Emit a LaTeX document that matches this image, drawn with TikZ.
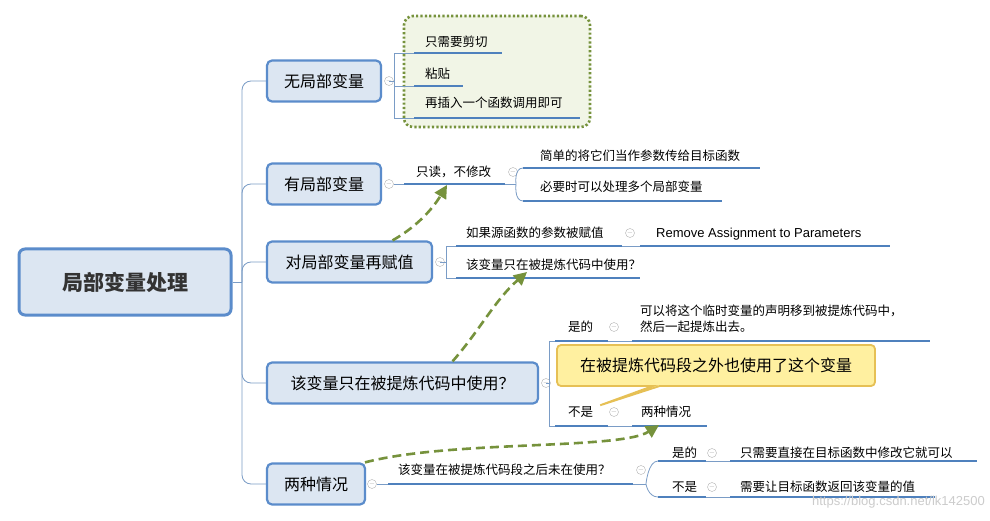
\documentclass[tikz,border=0pt]{standalone}
\usepackage{fontspec}
\setmainfont{Noto Sans CJK SC}
\newfontfamily\lat{Liberation Sans}
\usetikzlibrary{arrows.meta,shapes.callouts}
\definecolor{nfill}{HTML}{DCE6F2}
\definecolor{nline}{HTML}{5B8CCB}
\definecolor{uline}{HTML}{4F81BD}
\definecolor{brk}{HTML}{7A9CC6}
\definecolor{grn}{HTML}{76923C}
\definecolor{gfill}{HTML}{F1F5E6}
\definecolor{yfill}{HTML}{FFF0A0}
\definecolor{yline}{HTML}{E6C055}
\tikzset{
 lone/.style={draw=nline,fill=nfill,rounded corners=5,line width=2.2,minimum height=41,inner xsep=6,font=\fontsize{16}{18}\selectfont},
 txt/.style={anchor=west,inner sep=0,font=\fontsize{12.5}{16}\selectfont},
 ul/.style={draw=uline,line width=2.6},
 br/.style={draw=brk,line width=0.8},
 cl/.style={circle,draw=gray!60,inner sep=0,minimum size=9,font=\fontsize{7}{7}\selectfont,text=gray!70},
 darr/.style={draw=grn,line width=2.6,dash pattern=on 9pt off 5pt,-{Triangle[length=13,width=13]}},
}
\begin{document}
\begin{tikzpicture}[x=1pt,y=-1pt]
\useasboundingbox[fill=white] (0,0) rectangle (990,521);
% root
\node[draw=nline,fill=nfill,rounded corners=6,line width=3,minimum width=212,minimum height=66,font=\fontsize{21}{24}\selectfont\bfseries,text=black!80] (root) at (125,282) {局部变量处理};
% level 1
\node[lone,minimum width=114] (a) at (324,81) {无局部变量};
\node[lone,minimum width=114] (b) at (324,184) {有局部变量};
\node[lone,minimum width=165] (c) at (349.5,262) {对局部变量再赋值};
\node[lone,minimum width=271] (d) at (402.5,383) {该变量只在被提炼代码中使用？};
\node[lone,minimum width=98] (e) at (316,484) {两种情况};
\coordinate (tr) at (242,282);
\draw[br] (root.east) -- (tr);
\foreach \n in {a,b,c,d,e}{\draw[br,rounded corners=9] (\n.west) -| (tr);}
% collapse markers
\foreach \p/\q in {389/81,389/184,440/262,546/383,372/484}{\node[cl] at (\p,\q) {$-$};}
% group a
\node[draw=grn,fill=gfill,rounded corners=9,line width=2.6,dash pattern=on 2.2pt off 2.2pt,minimum width=186,minimum height=111] (ga) at (497,71.5) {};
\node[txt] (a1) at (425,42) {只需要剪切};
\node[txt] (a2) at (425,74) {粘贴};
\node[txt] (a3) at (425,103) {再插入一个函数调用即可};
\draw[ul] (414,53)--(502,53); \draw[ul] (414,86)--(463,86); \draw[ul] (414,118)--(580,118);
\draw[br] (394,81)--(389,81); \draw[br] (414,53)-|(394,118)--(414,118); \draw[br] (394,86)--(414,86);
% group b
\node[txt] (b1) at (416,172) {只读，不修改};
\draw[ul] (404,184)--(505,184); \draw[br] (394,184)--(404,184);
\node[cl] at (513,172) {$-$};
\node[txt] (b2) at (540,156) {简单的将它们当作参数传给目标函数};
\node[txt] (b3) at (540,187) {必要时可以处理多个局部变量};
\draw[ul] (523,168)--(760,168); \draw[ul] (523,201)--(722,201);
\draw[br] (505,184)--(516,184); \draw[br] (523,168) .. controls (514,168) and (516,184) .. (516,184) .. controls (516,184) and (514,201) .. (523,201);
% group c
\node[txt] (c1) at (466,233) {如果源函数的参数被赋值};
\node[cl] at (630,233) {$-$};
\node[txt,font=\lat\fontsize{13}{16}\selectfont] (c2) at (656,234) {Remove Assignment to Parameters};
\node[txt] (c3) at (466,265) {该变量只在被提炼代码中使用？};
\draw[ul] (456,246)--(622,246); \draw[ul] (640,246)--(890,246); \draw[ul] (456,278)--(640,278);
\draw[br] (446,262)--(440,262); \draw[br] (456,246)-|(446,278)--(456,278); \draw[br] (622,246)--(640,246);
% group d
\node[txt] (d1) at (568,327) {是的};
\node[cl] at (614,327) {$-$};
\node[txt,align=left] (d2) at (640,319) {可以将这个临时变量的声明移到被提炼代码中，\\然后一起提炼出去。};
\node[txt] (d3) at (568,412) {不是};
\node[cl] at (614,412) {$-$};
\node[txt] (d4) at (641,412) {两种情况};
\draw[ul] (555,341)--(608,341); \draw[ul] (632,341)--(930,341);
\draw[ul] (555,426)--(608,426); \draw[ul] (632,426)--(707,426);
\draw[br] (546,383)--(549,383); \draw[br] (555,341)-|(549,426)--(555,426);
\draw[br] (608,341)--(632,341); \draw[br] (608,426)--(632,426);
% callout
\node[rectangle callout,draw=yline,fill=yfill,line width=1.8,rounded corners=4,minimum width=318,minimum height=41,callout absolute pointer={(598,406)},font=\fontsize{16}{18}\selectfont] (co) at (716,365.5) {在被提炼代码段之外也使用了这个变量};
% group e
\node[txt] (e1) at (398,470) {该变量在被提炼代码段之后未在使用？};
\draw[ul] (388,484)--(633,484); \draw[br] (377,484)--(388,484);
\node[cl] at (641,470) {$-$};
\node[txt] (e2) at (672,453) {是的};
\node[txt] (e3) at (672,487) {不是};
\node[cl] at (712,453) {$-$}; \node[cl] at (712,487) {$-$};
\node[txt] (e4) at (740,453) {只需要直接在目标函数中修改它就可以};
\node[txt] (e5) at (740,487) {需要让目标函数返回该变量的值};
\draw[ul] (658,461)--(706,461); \draw[ul] (730,461)--(977,461);
\draw[ul] (658,497)--(706,497); \draw[ul] (730,497)--(935,497);
\draw[br] (706,461)--(730,461); \draw[br] (706,497)--(730,497);
\draw[br] (633,484)--(646,484); \draw[br] (658,461) .. controls (648,461) and (646,484) .. (646,484) .. controls (646,484) and (648,497) .. (658,497);
% watermark
\node[anchor=east,inner sep=0,text=gray!40,font=\lat\fontsize{13}{15}\selectfont] at (985,502) {https://blog.csdn.net/lk142500};
% dashed arrows
\draw[darr] (c.north) ++(43,0) .. controls (420,225) and (435,205) .. (447,185);
\draw[darr] (d.north) ++(50,0) .. controls (480,330) and (495,300) .. (527,272);
\draw[darr] (e.north) ++(49,0) .. controls (450,440) and (620,450) .. (659,425);
\end{tikzpicture}
\end{document}
